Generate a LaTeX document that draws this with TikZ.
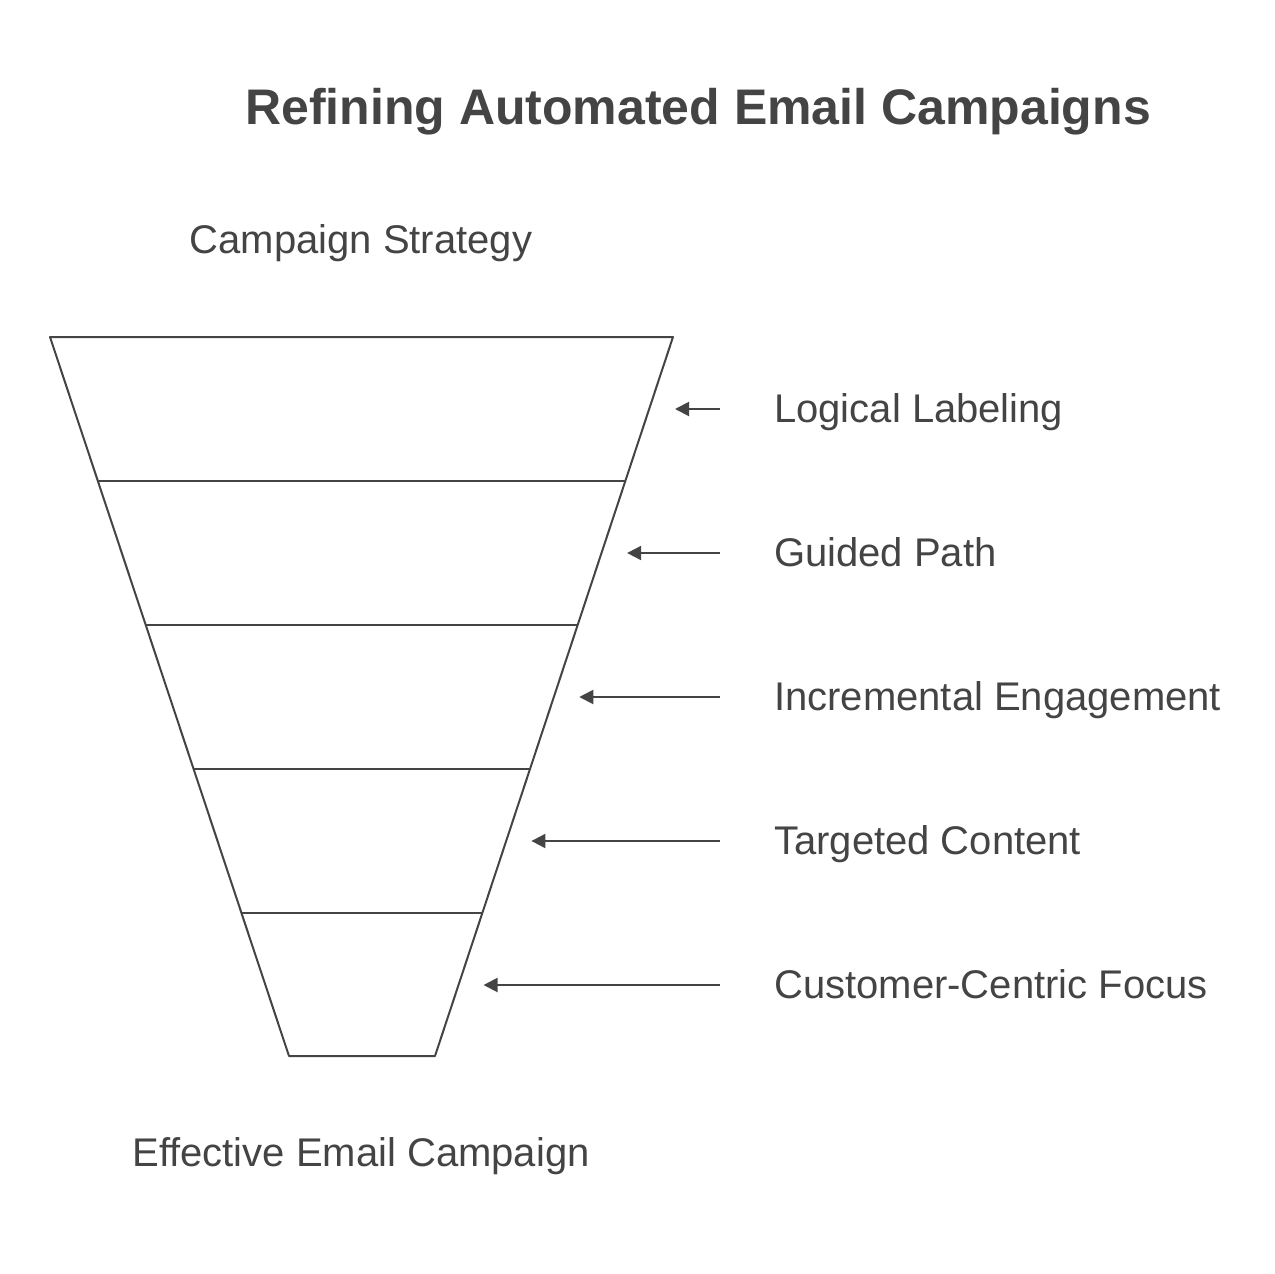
\documentclass[tikz,border=0pt]{standalone}
\usepackage{fontspec}
\setmainfont[Ligatures=NoCommon]{Liberation Sans}
\usetikzlibrary{arrows.meta}
\definecolor{inkgray}{HTML}{444444}
\tikzset{
  funnel line/.style={draw=inkgray, line width=2pt},
  pointer/.style={draw=inkgray, line width=2pt, -{Triangle[length=14pt,width=14pt]}},
  stage label/.style={anchor=base west, inner sep=0pt, text=inkgray, font=\fontsize{40}{48}\selectfont},
  end label/.style={anchor=base, inner sep=0pt, text=inkgray, font=\fontsize{40}{48}\selectfont}
}
\begin{document}
\begin{tikzpicture}[x=1pt,y=-1pt]
	\useasboundingbox (0,0) rectangle (1275,1274);
	% title
	\node[anchor=base, inner sep=0pt, text=inkgray, font=\bfseries\fontsize{50}{60}\selectfont] (title) at (698,124) {Refining Automated Email Campaigns};
	\node[end label] (top) at (361,253) {Campaign Strategy};
	\node[end label] (bottom) at (361,1166) {Effective Email Campaign};
	% funnel outline
	\coordinate (tl) at (50,337);
	\coordinate (tr) at (673,337);
	\coordinate (bl) at (289,1056);
	\coordinate (br) at (435,1056);
	\draw[funnel line, line join=round] (tl) -- (tr) -- (br) -- (bl) -- cycle;
	% layers and pointers
	\foreach \i/\txt in {0/Logical Labeling,1/Guided Path,2/Incremental Engagement,3/Targeted Content,4/Customer-Centric Focus}{
		\pgfmathsetmacro{\ytop}{337+144*\i}
		\pgfmathsetmacro{\ymid}{\ytop+72}
		\pgfmathsetmacro{\xr}{673-0.3324*144*\i}
		\pgfmathsetmacro{\xl}{50+0.3324*144*\i}
		\ifnum\i>0
			\draw[funnel line] (\xl,\ytop) -- (\xr,\ytop);
		\fi
		\coordinate (tip\i) at (\xr+2,\ymid);
		\coordinate (tail\i) at (720,\ymid);
		\draw[pointer] (tail\i) -- (tip\i);
		\node[stage label] (lab\i) at (774,\ymid+13) {\txt};
	}
\end{tikzpicture}
\end{document}
